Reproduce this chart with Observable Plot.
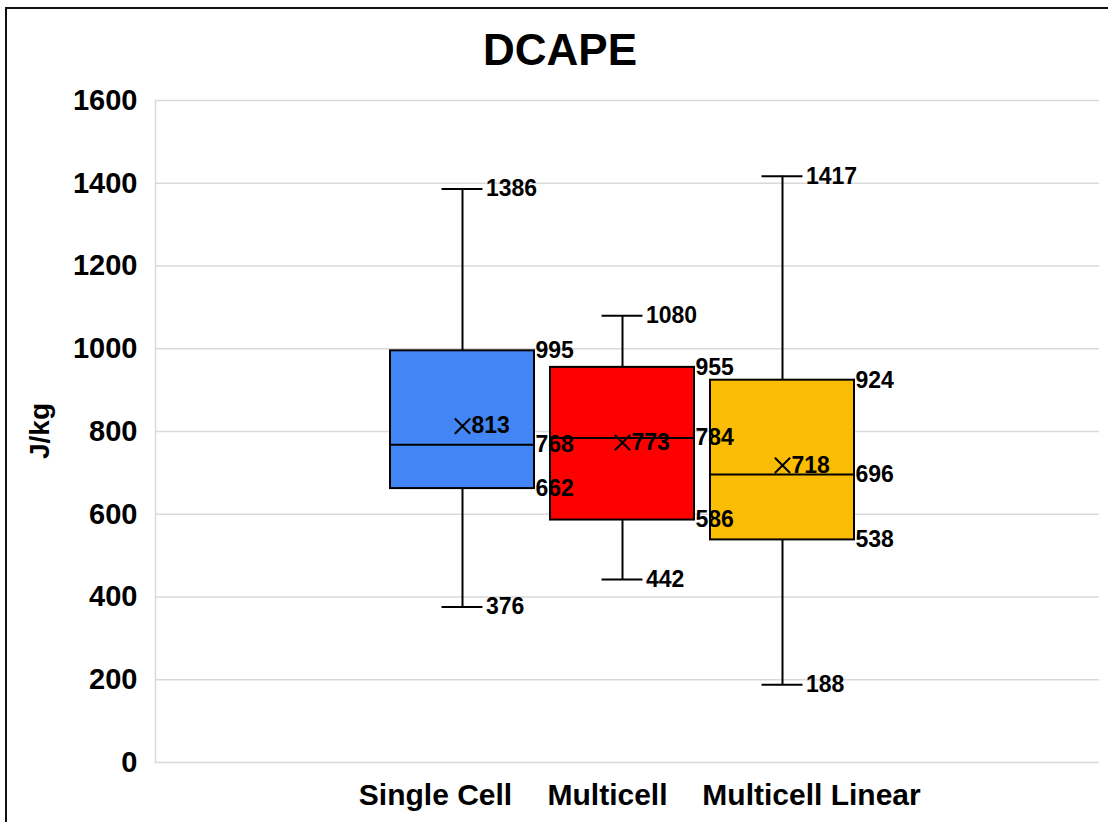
<!DOCTYPE html>
<html>
<head>
<meta charset="utf-8">
<script src="https://cdn.jsdelivr.net/npm/d3@7"></script>
<script src="https://cdn.jsdelivr.net/npm/@observablehq/plot@0.6"></script>
<style>
  html, body { margin: 0; padding: 0; background: #fff; }
  #wrap { position: relative; width: 1108px; height: 822px; overflow: hidden; font-family: "Liberation Sans", Arial, sans-serif; }
  #borderL { position: absolute; left: 5px; top: 7px; width: 2px; height: 830px; background: #111; }
  #borderT { position: absolute; left: 5px; top: 7px; width: 1110px; height: 2px; background: #111; }
  #title { position: absolute; left: 0; top: 28px; width: 1120px; text-align: center; font-size: 44px; line-height: 44px; font-weight: bold; color: #000; }
  #ylab { position: absolute; left: 40px; top: 431px; width: 0; height: 0; }
  #ylab span { position: absolute; left: 0; top: 0; transform: translate(-50%, -50%) rotate(-90deg); white-space: nowrap; font-size: 28px; line-height: 28px; font-weight: bold; color: #000; }
  #chart { position: absolute; left: 0; top: 0; }
  #chart svg { font-weight: bold; }
</style>
</head>
<body>
<div id="wrap">
  <div id="chart"></div>
  <div id="borderL"></div>
  <div id="borderT"></div>
  <div id="title">DCAPE</div>
  <div id="ylab"><span id="ylabText"></span></div>
</div>
<script>
const categories = ["Single Cell", "Multicell", "Multicell Linear"];
const minVals = [376, 442, 188];
const q1Vals = [662, 586, 538];
const medianVals = [768, 784, 696];
const q3Vals = [995, 955, 924];
const maxVals = [1386, 1080, 1417];
const meanVals = [813, 773, 718];
const colors = ["#4285F4", "#FF0000", "#FBBC04"];
const yTicks = [0, 200, 400, 600, 800, 1000, 1200, 1400, 1600];
const yLabel = "J/kg";

document.getElementById("ylabText").textContent = yLabel;

const data = categories.map((c, i) => ({
  cat: c, i,
  min: minVals[i], q1: q1Vals[i], median: medianVals[i],
  q3: q3Vals[i], max: maxVals[i], mean: meanVals[i], color: colors[i]
}));

const HW = 0.45;   // half box width (x units)
const CW = 0.128;  // half cap width
const valFont = 23;

const catMark = (idx, dx) => Plot.text([data[idx]], {
  x: "i", y: () => 0, text: "cat", dy: 33, dx,
  fontSize: 30, fontWeight: "bold", fill: "#000", textAnchor: "middle"
});

const chart = Plot.plot({
  width: 1108,
  height: 822,
  marginLeft: 155,
  marginRight: 9,
  marginTop: 100,
  marginBottom: 60,
  style: { fontFamily: "'Liberation Sans', Arial, sans-serif", color: "#000", background: "transparent", fontWeight: "bold" },
  x: { domain: [-1.91875, 3.98125], axis: null },
  y: { domain: [0, 1600], axis: null },
  marks: [
    Plot.gridY(yTicks, { stroke: "#d9d9d9", strokeOpacity: 1, strokeWidth: 1.5 }),
    Plot.frame({ anchor: "left", stroke: "#d9d9d9", strokeWidth: 1.5 }),
    Plot.axisY(yTicks, { tickSize: 0, tickPadding: 18, tickFormat: d => String(d), fontSize: 29, fontWeight: "bold", fill: "#000", label: null }),
    // whiskers
    Plot.ruleX(data, { x: "i", y1: "min", y2: "q1", stroke: "#000", strokeWidth: 2 }),
    Plot.ruleX(data, { x: "i", y1: "q3", y2: "max", stroke: "#000", strokeWidth: 2 }),
    // caps
    Plot.ruleY(data, { y: "min", x1: d => d.i - CW, x2: d => d.i + CW, stroke: "#000", strokeWidth: 2 }),
    Plot.ruleY(data, { y: "max", x1: d => d.i - CW, x2: d => d.i + CW, stroke: "#000", strokeWidth: 2 }),
    // boxes
    Plot.rect(data, { x1: d => d.i - HW, x2: d => d.i + HW, y1: "q1", y2: "q3", fill: "color", stroke: "#000", strokeWidth: 2 }),
    Plot.ruleY(data, { y: "median", x1: d => d.i - HW, x2: d => d.i + HW, stroke: "#000", strokeWidth: 2 }),
    // mean markers
    Plot.dot(data, { x: "i", y: "mean", symbol: "times", r: 7, stroke: "#000", strokeWidth: 2 }),
    // labels
    Plot.text(data, { x: "i", y: "mean", text: d => String(d.mean), dx: 9, textAnchor: "start", fontSize: valFont, fill: "#000" }),
    Plot.text(data, { x: d => d.i + HW, y: "q3", text: d => String(d.q3), dx: 1, textAnchor: "start", fontSize: valFont, fill: "#000" }),
    Plot.text(data, { x: d => d.i + HW, y: "median", text: d => String(d.median), dx: 1, textAnchor: "start", fontSize: valFont, fill: "#000" }),
    Plot.text(data, { x: d => d.i + HW, y: "q1", text: d => String(d.q1), dx: 1, textAnchor: "start", fontSize: valFont, fill: "#000" }),
    Plot.text(data, { x: d => d.i + CW, y: "max", text: d => String(d.max), dx: 3, textAnchor: "start", fontSize: valFont, fill: "#000" }),
    Plot.text(data, { x: d => d.i + CW, y: "min", text: d => String(d.min), dx: 3, textAnchor: "start", fontSize: valFont, fill: "#000" }),
    // category labels
    catMark(0, -27),
    catMark(1, -15),
    catMark(2, 29)
  ]
});
document.getElementById("chart").appendChild(chart);
</script>
</body>
</html>
